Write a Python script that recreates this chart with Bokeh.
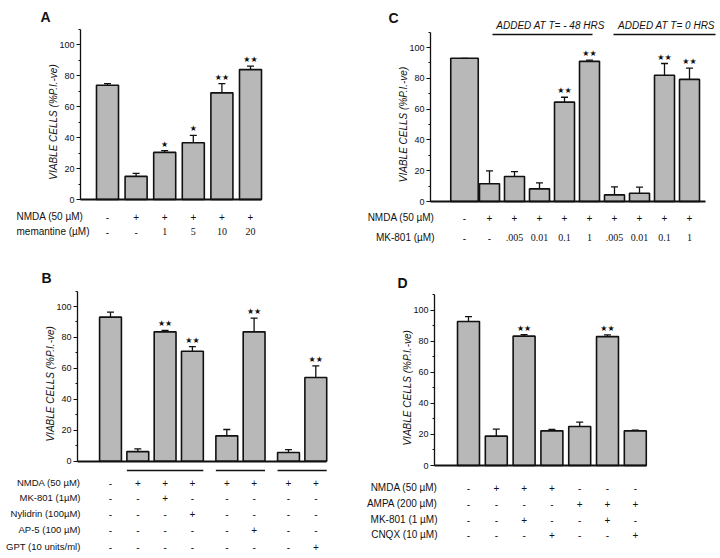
from math import pi
from bokeh.plotting import figure
from bokeh.layouts import row, column
from bokeh.models import (Range1d, Label, Whisker, TeeHead, ColumnDataSource,
                          SingleIntervalTicker, FixedTicker)
from bokeh.core.properties import value
from bokeh.embed import file_html
from bokeh.resources import INLINE

Y_LABEL = "VIABLE CELLS (%P.I.-ve)"

# ---------------- Panel A ----------------
a_values = [73.7, 14.9, 30.4, 36.6, 68.8, 83.8]
a_errors = [1.1, 1.9, 1.1, 4.8, 6.0, 2.2]
a_stars = ["", "", "*", "*", "**", "**"]
a_groups = [0, 0, 0, 0, 0, 0]
a_row_labels = ["NMDA (50 µM)", "memantine (µM)"]
a_row_nmda = ["-", "+", "+", "+", "+", "+"]
a_row_memantine = ["-", "-", "1", "5", "10", "20"]

# ---------------- Panel B ----------------
b_values = [93.1, 6.2, 83.6, 71.1, 16.4, 83.6, 5.6, 54.1]
b_errors = [3.2, 1.8, 0.9, 3.0, 4.1, 8.9, 1.9, 7.5]
b_stars = ["", "", "**", "**", "", "**", "", "**"]
b_groups = [0, 0, 0, 0, 1, 1, 2, 2]
b_row_labels = ["NMDA (50 µM)", "MK-801 (1µM)", "Nylidrin (100µM)", "AP-5 (100 µM)", "GPT (10 units/ml)"]
b_row_nmda = ["-", "+", "+", "+", "+", "+", "+", "+"]
b_row_mk801 = ["-", "-", "+", "-", "-", "-", "-", "-"]
b_row_nylidrin = ["-", "-", "-", "+", "-", "-", "-", "-"]
b_row_ap5 = ["-", "-", "-", "-", "-", "+", "-", "-"]
b_row_gpt = ["-", "-", "-", "-", "-", "-", "-", "+"]
b_underlined = [(1, 3), (4, 5), (6, 7)]

# ---------------- Panel C ----------------
c_values = [93.0, 11.5, 16.2, 8.2, 64.5, 91.0, 4.3, 5.4, 82.0, 79.3]
c_errors = [0.0, 8.4, 3.2, 3.9, 3.2, 0.8, 5.2, 3.9, 7.6, 7.3]
c_stars = ["", "", "", "", "**", "**", "", "", "**", "**"]
c_groups = [0] * 10
c_row_labels = ["NMDA (50 µM)", "MK-801 (µM)"]
c_row_nmda = ["-", "+", "+", "+", "+", "+", "+", "+", "+", "+"]
c_row_mk801 = ["-", "-", ".005", "0.01", "0.1", "1", ".005", "0.01", "0.1", "1"]
c_headers = ["ADDED AT T= - 48 HRS", "ADDED AT T= 0 HRS"]

# ---------------- Panel D ----------------
d_values = [92.7, 18.9, 83.3, 22.3, 25.1, 83.0, 22.3]
d_errors = [3.2, 4.5, 1.0, 0.9, 2.8, 1.1, 0.5]
d_stars = ["", "", "**", "", "", "**", ""]
d_groups = [0] * 7
d_row_labels = ["NMDA (50 µM)", "AMPA (200 µM)", "MK-801 (1 µM)", "CNQX (10 µM)"]
d_row_nmda = ["-", "+", "+", "+", "-", "-", "-"]
d_row_ampa = ["-", "-", "-", "-", "+", "+", "+"]
d_row_mk801 = ["-", "-", "+", "-", "-", "+", "-"]
d_row_cnqx = ["-", "-", "-", "+", "-", "-", "+"]

BAR_FILL = "#b8b8b8"
SANS = "Liberation Sans"
SERIF = "Liberation Serif"
INK = "#111111"


def make_panel(letter, values, errors, stars, groups, rows, row_labels, g):
    k = (g["y0"] - g["y100"]) / 100.0
    X = lambda px: (px - g["x0"]) / g["step"]
    Y = lambda py: (g["y0"] - py) / k
    left, top, w, h = g["left"], g["top"], g["w"], g["h"]
    p = figure(width=w, height=h, output_backend="svg", toolbar_location=None, tools="",
               x_range=Range1d(X(left), X(left + w)),
               y_range=Range1d(Y(top + h), Y(top)),
               min_border_left=0, min_border_right=0, min_border_top=0, min_border_bottom=0)
    p.outline_line_color = None
    p.grid.visible = False
    p.background_fill_color = "white"
    p.border_fill_color = "white"

    gap = g.get("gap", 0.0)
    xs = [i + grp * gap for i, grp in enumerate(groups)]
    wd = g["bar_w"]
    widths = [wd] * len(xs)
    if "first_w" in g:
        widths[0] = g["first_w"]
    upper = [v + e for v, e in zip(values, errors)]

    # y axis, drawn at its fixed place inside the frame
    ax = p.yaxis[0]
    ax.fixed_location = X(g["axis"])
    ax.bounds = (0, 110)
    ax.ticker = SingleIntervalTicker(interval=20, num_minor_ticks=2)
    ax.major_tick_out = 4
    ax.major_tick_in = 0
    ax.minor_tick_out = 2
    ax.minor_tick_in = 0
    ax.axis_line_width = 1.3
    ax.major_tick_line_width = 1.2
    ax.axis_line_color = INK
    ax.major_tick_line_color = INK
    ax.minor_tick_line_color = INK
    ax.major_label_text_font = SANS
    ax.major_label_text_font_size = "9px"
    ax.major_label_text_color = INK
    ax.major_label_standoff = 2

    # x axis at zero, without ticks
    xa = p.xaxis[0]
    xa.fixed_location = 0
    xa.bounds = (X(g["axis"]), xs[-1] + wd / 2 + g.get("axis_ext", 0.0))
    xa.ticker = FixedTicker(ticks=[])
    xa.major_tick_out = 0
    xa.major_tick_in = 0
    xa.minor_tick_out = 0
    xa.minor_tick_in = 0
    xa.axis_line_width = 1.8
    xa.axis_line_color = INK
    xa.major_label_text_alpha = 0

    p.vbar(x=xs, top=values, bottom=0, width=widths, fill_color=BAR_FILL,
           line_color=INK, line_width=1.6)

    src = ColumnDataSource(dict(x=xs, lower=values, upper=upper))
    p.add_layout(Whisker(source=src, base="x", lower="lower", upper="upper",
                         line_color=INK, line_width=1.3, lower_head=None,
                         upper_head=TeeHead(size=7, line_color=INK, line_width=1.3)))

    p.text(x=xs, y=upper, text=[s.replace("*", "★") for s in stars], text_align="center",
           text_baseline="bottom", y_offset=-2, text_font=value("DejaVu Sans"),
           text_font_size="8px", text_color=INK)

    # condition table
    tx, ty, tt, tf = [], [], [], []
    for vals, py in zip(rows, g["rows"]):
        for x, t in zip(xs, vals):
            tx.append(x)
            ty.append(Y(py))
            tt.append(t)
            tf.append(SANS if t in "+-" else SERIF)
    tsrc = ColumnDataSource(dict(x=tx, y=ty, text=tt, font=tf))
    p.text(x="x", y="y", text="text", text_font="font", source=tsrc, text_align="center",
           text_baseline="middle", text_font_size="10px", text_color=INK)

    lsrc = ColumnDataSource(dict(x=[X(g["lab_x"])] * len(row_labels),
                                 y=[Y(py) for py in g["rows"]], text=row_labels))
    p.text(x="x", y="y", text="text", source=lsrc, text_align=g["lab_align"],
           text_baseline="middle", text_font=value(SANS),
           text_font_size=g.get("lab_size", "10px"), text_color=INK)

    p.text(x=[X(g["axis"] - 27)], y=[50], text=[Y_LABEL], angle=pi / 2,
           text_align="center", text_baseline="middle", text_font=value(SANS),
           text_font_style="italic", text_font_size="10px", text_color=INK)

    p.text(x=[X(g["letter"][0])], y=[Y(g["letter"][1])], text=[letter],
           text_align="left", text_baseline="alphabetic", text_font=value(SANS),
           text_font_style="bold", text_font_size="14px", text_color=INK)
    return p, xs, X, Y


geo_a = dict(left=0, top=0, w=360, h=263, axis=80, y0=199, y100=44, x0=107, step=28.6,
             bar_w=0.77, rows=[216, 231], lab_x=16, lab_align="left", letter=(40, 16))
geo_b = dict(left=0, top=263, w=360, h=293, axis=77, y0=460.7, y100=306, x0=110, step=27.3,
             gap=0.26, bar_w=0.8, rows=[482, 497, 513, 529, 546], lab_x=80, lab_align="right",
             lab_size="9.5px", letter=(41, 277))
geo_c = dict(left=360, top=0, w=358, h=263, axis=430, y0=201, y100=47, x0=464, step=25,
             bar_w=0.8, first_w=1.1, axis_ext=0.24, rows=[217, 237], lab_x=434,
             lab_align="right", letter=(388, 17))
geo_d = dict(left=360, top=263, w=358, h=293, axis=434, y0=465, y100=309.7, x0=468, step=27.8,
             bar_w=0.79, rows=[487, 503, 519, 534], lab_x=437, lab_align="right", letter=(397, 282))

pA, xa_, XA, YA = make_panel("A", a_values, a_errors, a_stars, a_groups,
                             [a_row_nmda, a_row_memantine], a_row_labels, geo_a)
pB, xb, XB, YB = make_panel("B", b_values, b_errors, b_stars, b_groups,
                            [b_row_nmda, b_row_mk801, b_row_nylidrin, b_row_ap5, b_row_gpt],
                            b_row_labels, geo_b)
pC, xc, XC, YC = make_panel("C", c_values, c_errors, c_stars, c_groups,
                            [c_row_nmda, c_row_mk801], c_row_labels, geo_c)
pD, xd, XD, YD = make_panel("D", d_values, d_errors, d_stars, d_groups,
                            [d_row_nmda, d_row_ampa, d_row_mk801, d_row_cnqx], d_row_labels, geo_d)

# B: lines under the treated groups
wb = geo_b["bar_w"]
pB.segment(x0=[xb[a] - wb / 2 for a, b in b_underlined], y0=[YB(470)] * 3,
           x1=[xb[b] + wb / 2 for a, b in b_underlined], y1=[YB(470)] * 3,
           line_color=INK, line_width=1.5)

# C: header lines and texts
pC.segment(x0=[XC(492), XC(613)], y0=[YC(34)] * 2, x1=[XC(592), XC(715)], y1=[YC(34)] * 2,
           line_color=INK, line_width=1.3)
pC.text(x=[XC(550), XC(666)], y=[YC(25)] * 2, text=c_headers, text_align="center",
        text_baseline="middle", text_font=value(SANS), text_font_style="italic",
        text_font_size="10px", text_color=INK)

layout = column(row(pA, pC), row(pB, pD))
open("out.html", "w").write(file_html(layout, INLINE))
